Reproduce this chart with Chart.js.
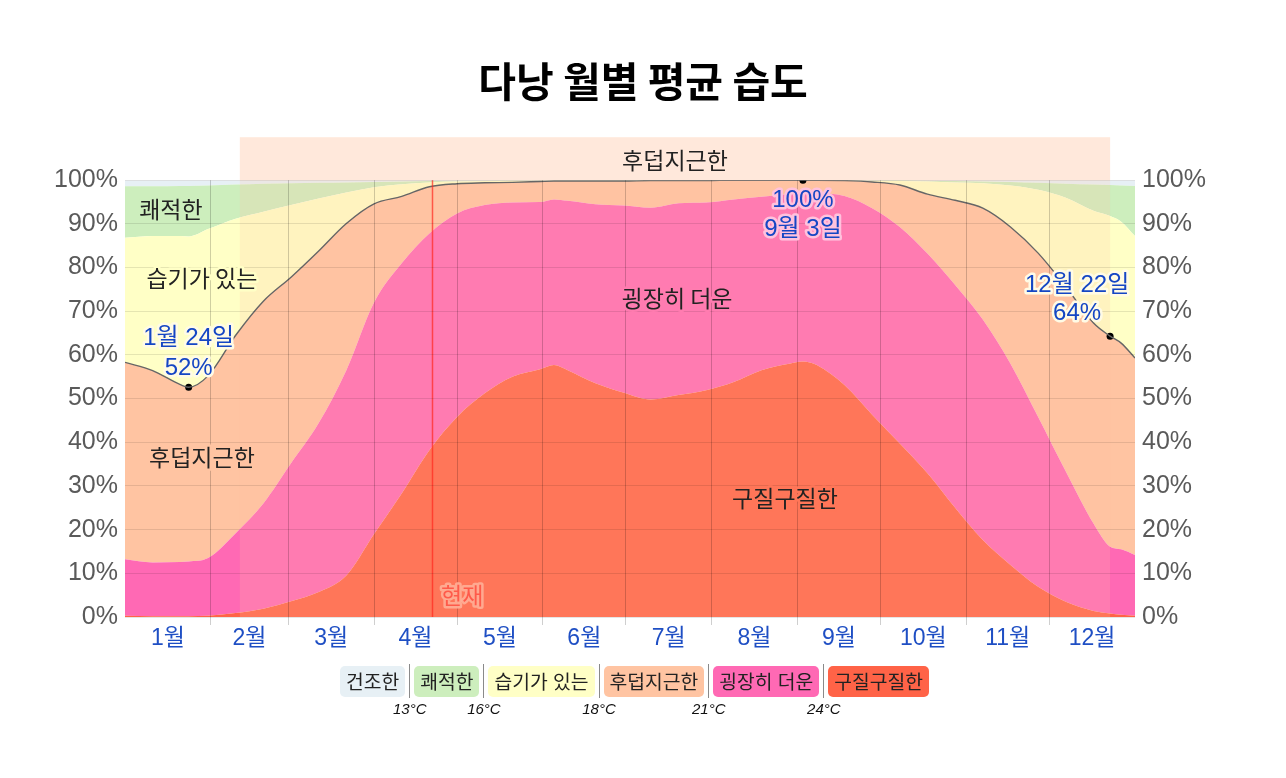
<!DOCTYPE html>
<html lang="ko">
<head>
<meta charset="utf-8">
<title>다낭 월별 평균 습도</title>
<script src="https://cdn.jsdelivr.net/npm/chart.js@4.4.1/dist/chart.umd.min.js"></script>
<style>
  html, body { margin: 0; padding: 0; background: #fff; }
  #wrap { position: relative; width: 1286px; height: 778px; }
  #myChart { position: absolute; left: 0; top: 0; }
  #legend { position: absolute; left: 340px; top: 664px; display: flex; align-items: center;
            font-family: 'Noto Sans CJK KR', sans-serif; font-size: 19.3px; color: #222; }
  #legend .item { height: 31px; line-height: 31px; padding: 0 6px; border-radius: 5px; }
  #legend .sep { width: 1px; height: 34px; background: #8a8a8a; margin: 0 4px; }
  .temp { position: absolute; top: 700px; transform: translateX(-50%);
          font: italic 15px 'Liberation Sans', sans-serif; color: #111; }
</style>
</head>
<body>
<div id="wrap">
  <canvas id="myChart" width="1286" height="778"></canvas>
  <div id="legend"></div>
</div>
<script>
// day of year (0 = 1월 1일)
const days = [0, 10, 20, 23, 30, 40, 50, 60, 70, 80, 90, 100, 110, 120, 130, 140, 150, 155, 160, 170,
  180, 190, 200, 210, 220, 230, 240, 245, 250, 260, 270, 280, 290, 300, 310, 320, 330, 340, 350, 356, 360, 365];

// cumulative % of time, from the bottom band up
const oppressive = [0.3, 0.2, 0.2, 0.2, 0.3, 0.9, 1.9, 3.6, 5.7, 9.5, 19, 28.3, 38.2, 45.8, 51.2, 55, 56.7, 57.7, 56.5, 53.5,
  51.4, 49.8, 50.8, 51.9, 53.8, 56.5, 58, 58.5, 57.7, 53.1, 46.3, 39.7, 32.9, 25, 17.6, 11.9, 6.9, 3.5, 1.4, 0.8, 0.5, 0.3];
const miserableOrWorse = [13.2, 12.5, 12.6, 12.7, 13.5, 19.2, 26, 35.2, 44.4, 56.5, 72, 81, 87.8, 92.4, 94.3, 94.9, 95, 95.6, 95.3, 94.5,
  94.2, 93.7, 94.7, 94.9, 95.6, 96.2, 96.8, 97, 97, 96.4, 93.6, 89.3, 83.2, 76, 68.1, 58, 45.8, 33.3, 21.4, 16.1, 15.5, 14.2];
const muggyOrWorse = [58.3, 56.4, 53.2, 52.6, 55.2, 64.5, 72.3, 77.8, 83.8, 90.1, 94.6, 96.3, 98.5, 99.2, 99.4, 99.5, 99.7, 99.8, 99.8, 99.8,
  99.8, 99.9, 99.9, 99.9, 100, 100, 100, 100, 100, 99.9, 99.6, 98.9, 96.8, 95.4, 93.6, 89.3, 83.3, 75.6, 67.3, 64.3, 62.7, 59.3];
const humidOrWorse = [86.8, 87.2, 87.2, 87.1, 88.8, 91.2, 92.8, 94.3, 95.8, 97.2, 98.4, 99.1, 99.5, 99.7, 99.8, 99.9, 99.9, 99.9, 99.9, 99.9,
  99.9, 99.9, 99.9, 99.9, 100, 100, 100, 100, 100, 99.9, 99.9, 99.8, 99.7, 99.5, 99.3, 98.8, 97.8, 96, 93, 91.8, 90.5, 87.2];
const comfortableOrWorse = [98.6, 98.6, 98.7, 98.7, 98.8, 99, 99.2, 99.3, 99.4, 99.5, 99.6, 99.7, 99.8, 99.9, 99.9, 100, 100, 100, 100, 100,
  100, 100, 100, 100, 100, 100, 100, 100, 100, 100, 100, 100, 99.9, 99.8, 99.7, 99.6, 99.4, 99.2, 99, 98.9, 98.8, 98.7];

const monthLabels = ['1월', '2월', '3월', '4월', '5월', '6월', '7월', '8월', '9월', '10월', '11월', '12월'];
const monthStarts = [0, 31, 59, 90, 120, 151, 181, 212, 243, 273, 304, 334, 365];

const extremeDays = [23, 245, 356];
const extremeValues = [52.6, 100, 64.3];
const extremeLabels = [['1월 24일', '52%'], ['100%', '9월 3일'], ['12월 22일', '64%']];

const bandNames = ['건조한', '쾌적한', '습기가 있는', '후덥지근한', '굉장히 더운', '구질구질한'];
const bandColors = ['#e7f0f5', '#cdeebd', '#ffffc6', '#ffc4a2', '#ff69b4', '#ff6347'];
const bandLimits = ['13°C', '16°C', '18°C', '21°C', '24°C'];

const nowDay = 111;
const muggySeason = [41.5, 356];

const KR = '"Noto Sans CJK KR", sans-serif';
const LAT = '"Liberation Sans", "Noto Sans CJK KR", sans-serif';

function pts(arr) {
  return days.map((d, i) => ({x: d, y: arr[i]}));
}

const midMonths = monthLabels.map((m, i) => (monthStarts[i] + monthStarts[i + 1]) / 2);
const innerStarts = monthStarts.slice(1, 12);
const tickDays = innerStarts.concat(midMonths).sort((a, b) => a - b);

function haloText(ctx, text, x, y, color, halo, w) {
  ctx.lineJoin = 'round';
  ctx.lineWidth = w;
  ctx.strokeStyle = halo;
  ctx.strokeText(text, x, y);
  ctx.fillStyle = color;
  ctx.fillText(text, x, y);
}

const decorations = {
  id: 'decorations',
  beforeDatasetsDraw(chart) {
    const {ctx, chartArea, scales: {x}} = chart;
    const x0 = x.getPixelForValue(muggySeason[0]);
    const x1 = x.getPixelForValue(muggySeason[1]);
    ctx.save();
    ctx.fillStyle = 'rgba(255,196,163,0.39)';
    ctx.fillRect(x0, chartArea.top - 43, x1 - x0, 43);
    ctx.fillStyle = 'rgba(255,196,163,0.2)';
    ctx.fillRect(x0, chartArea.top, x1 - x0, chartArea.bottom - chartArea.top);
    ctx.restore();
  },
  afterDatasetsDraw(chart) {
    const {ctx, chartArea, scales: {x}} = chart;
    const nx = Math.round(x.getPixelForValue(nowDay)) + 0.5;
    ctx.save();
    ctx.strokeStyle = 'rgba(255,40,30,0.7)';
    ctx.lineWidth = 1.5;
    ctx.beginPath();
    ctx.moveTo(nx, chartArea.top);
    ctx.lineTo(nx, chartArea.bottom);
    ctx.stroke();
    ctx.restore();
  },
  afterDraw(chart) {
    const {ctx, chartArea, scales: {x, y}} = chart;
    ctx.save();
    ctx.textAlign = 'center';
    ctx.textBaseline = 'middle';

    // season header
    ctx.font = '23px ' + KR;
    ctx.fillStyle = '#222';
    ctx.fillText(bandNames[3], x.getPixelForValue((muggySeason[0] + muggySeason[1]) / 2), chartArea.top - 20);

    // band names
    const labels = [
      [bandNames[1], 16.6, 93.4, bandColors[1]],
      [bandNames[2], 27.8, 77.6, bandColors[2]],
      [bandNames[3], 27.8, 36.6, bandColors[3]],
      [bandNames[4], 199.5, 73, '#ff7cb0'],
      [bandNames[5], 238.5, 27.2, '#ff7658']
    ];
    labels.forEach(l => {
      haloText(ctx, l[0], x.getPixelForValue(l[1]), y.getPixelForValue(l[2]), '#222', l[3], 5);
    });

    // now
    ctx.font = '23px ' + KR;
    haloText(ctx, '현재', x.getPixelForValue(nowDay) + 30, y.getPixelForValue(5), '#ff5a4a', 'rgba(255,175,150,0.9)', 5);

    // extremes
    ctx.font = '24px ' + LAT;
    const offs = [[0, -49, -19], [0, 20, 49], [-33, -51, -23]];
    const halos = ['#fffbe6', '#ffc2dd', '#fffbe6'];
    extremeDays.forEach((d, i) => {
      const px = x.getPixelForValue(d) + offs[i][0];
      const py = y.getPixelForValue(extremeValues[i]);
      haloText(ctx, extremeLabels[i][0], px, py + offs[i][1], '#1546c4', halos[i], 5);
      haloText(ctx, extremeLabels[i][1], px, py + offs[i][2], '#1546c4', halos[i], 5);
    });
    ctx.restore();
  }
};

const ctx = document.getElementById('myChart').getContext('2d');
Chart.defaults.font.family = KR;

const myChart = new Chart(ctx, {
  type: 'line',
  data: {
    datasets: [
      {data: pts(oppressive), fill: 'origin', backgroundColor: bandColors[5]},
      {data: pts(miserableOrWorse), fill: '-1', backgroundColor: bandColors[4]},
      {data: pts(muggyOrWorse), fill: '-1', backgroundColor: bandColors[3], borderColor: '#666', borderWidth: 1.4},
      {data: pts(humidOrWorse), fill: '-1', backgroundColor: bandColors[2]},
      {data: pts(comfortableOrWorse), fill: '-1', backgroundColor: bandColors[1]},
      {data: pts(comfortableOrWorse), fill: 'end', backgroundColor: bandColors[0]},
      {
        data: extremeDays.map((d, i) => ({x: d, y: extremeValues[i]})),
        showLine: false, fill: false, pointRadius: 3.5,
        pointBackgroundColor: '#000', pointBorderWidth: 0
      }
    ]
  },
  options: {
    responsive: false,
    animation: false,
    events: [],
    layout: {padding: 0},
    elements: {
      line: {borderWidth: 0, borderColor: 'transparent', cubicInterpolationMode: 'monotone'},
      point: {radius: 0}
    },
    scales: {
      x: {
        type: 'linear',
        min: 0,
        max: 365,
        afterBuildTicks: (axis) => { axis.ticks = tickDays.map(v => ({value: v})); },
        afterFit: (axis) => { axis.height = 161; },
        border: {display: false},
        grid: {
          z: 1,
          tickLength: 8,
          color: (c) => innerStarts.includes(c.tick.value) ? 'rgba(0,0,0,0.19)' : 'transparent',
          tickColor: (c) => innerStarts.includes(c.tick.value) ? 'rgba(0,0,0,0.19)' : 'transparent'
        },
        ticks: {
          autoSkip: false,
          maxRotation: 0,
          padding: 0,
          color: '#1f4fc4',
          font: {family: LAT, size: 23},
          callback: (v) => {
            const i = midMonths.indexOf(v);
            return i >= 0 ? monthLabels[i] : '';
          }
        }
      },
      y: {
        position: 'left',
        min: 0,
        max: 100,
        afterFit: (axis) => { axis.width = 125; },
        border: {display: false},
        grid: {z: 1, color: 'rgba(0,0,0,0.1)', drawTicks: false},
        ticks: {stepSize: 10, padding: 7, color: '#5a5a5a', font: {family: LAT, size: 25}, callback: (v) => v + '%'}
      },
      y2: {
        position: 'right',
        min: 0,
        max: 100,
        afterFit: (axis) => { axis.width = 151; },
        border: {display: false},
        grid: {display: false, drawTicks: false},
        ticks: {stepSize: 10, padding: 7, color: '#5a5a5a', font: {family: LAT, size: 25}, callback: (v) => v + '%'}
      }
    },
    plugins: {
      filler: {drawTime: 'beforeDatasetsDraw'},
      legend: {display: false},
      tooltip: {enabled: false},
      title: {
        display: true,
        text: '다낭 월별 평균 습도',
        color: '#000',
        font: {family: KR, size: 41, weight: 'bold'},
        padding: {top: 57, bottom: 74}
      }
    }
  },
  plugins: [decorations]
});

// legend with temperature limits between bands
const legendEl = document.getElementById('legend');
const seps = [];
bandNames.forEach((name, i) => {
  if (i > 0) {
    const s = document.createElement('div');
    s.className = 'sep';
    legendEl.appendChild(s);
    seps.push(s);
  }
  const it = document.createElement('div');
  it.className = 'item';
  it.style.background = bandColors[i];
  it.textContent = name;
  legendEl.appendChild(it);
});
const wrap = document.getElementById('wrap');
seps.forEach((s, i) => {
  const t = document.createElement('div');
  t.className = 'temp';
  t.textContent = bandLimits[i];
  t.style.left = (s.getBoundingClientRect().left + 0.5) + 'px';
  wrap.appendChild(t);
});
</script>
</body>
</html>
